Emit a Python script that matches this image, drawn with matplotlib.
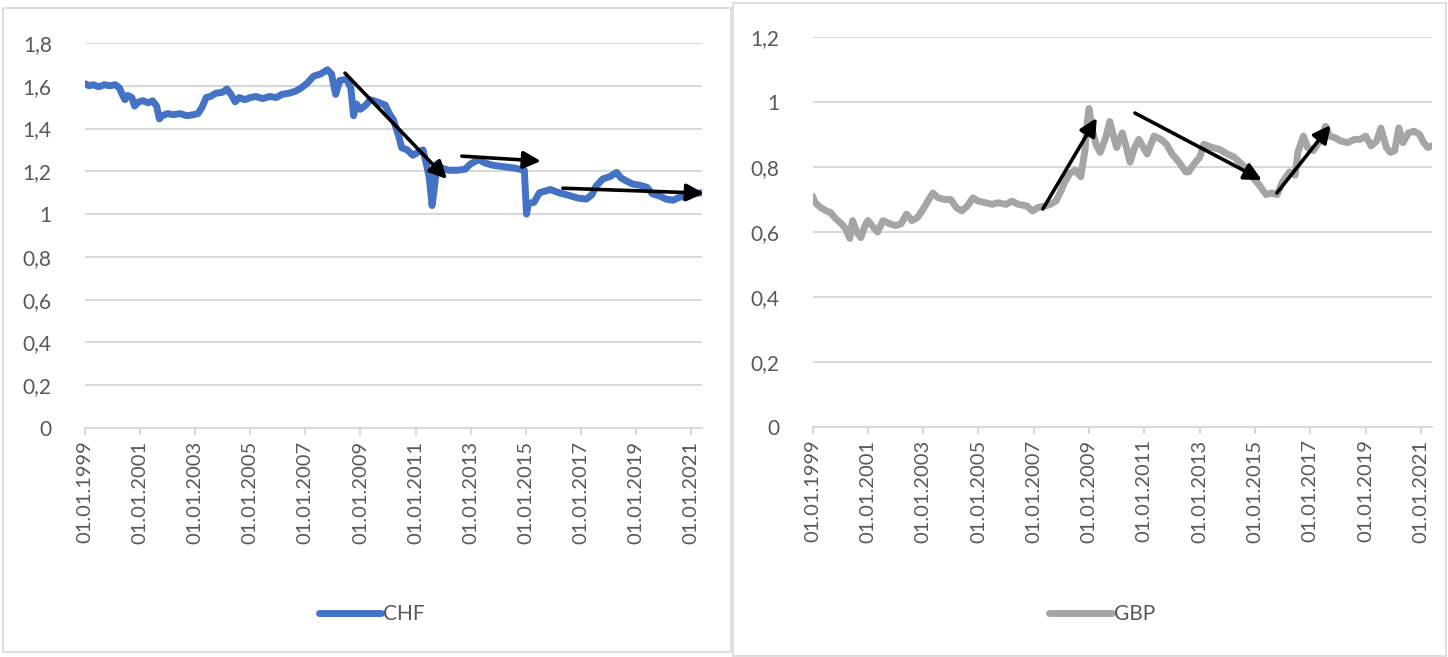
import matplotlib
matplotlib.use("Agg")
import matplotlib.pyplot as plt
from matplotlib.patches import Rectangle

plt.rcParams["font.family"] = ["Lato", "DejaVu Sans"]

# EUR/CHF (decimal years)
chf_years = [1999.00, 1999.15, 1999.30, 1999.50, 1999.70, 1999.90, 2000.10, 2000.25, 2000.35, 2000.45,
             2000.55, 2000.70, 2000.80, 2000.95, 2001.10, 2001.30, 2001.45, 2001.60, 2001.70, 2001.80,
             2002.00, 2002.20, 2002.45, 2002.70, 2002.95, 2003.10, 2003.25, 2003.40, 2003.55, 2003.75,
             2004.00, 2004.15, 2004.30, 2004.45, 2004.60, 2004.80, 2005.00, 2005.20, 2005.45, 2005.70,
             2005.95, 2006.15, 2006.40, 2006.65, 2006.85, 2007.05, 2007.30, 2007.55, 2007.80, 2007.95,
             2008.10, 2008.25, 2008.50, 2008.65, 2008.75, 2008.85, 2009.00, 2009.20, 2009.35, 2009.60,
             2009.90, 2010.05, 2010.20, 2010.40, 2010.50, 2010.70, 2010.90, 2011.10, 2011.27, 2011.40,
             2011.50, 2011.60, 2011.68, 2011.78, 2011.95, 2012.20, 2012.50, 2012.80, 2013.00, 2013.30,
             2013.50, 2013.75, 2014.00, 2014.30, 2014.60, 2014.95, 2015.03, 2015.10, 2015.30, 2015.50,
             2015.90, 2016.20, 2016.50, 2016.90, 2017.20, 2017.40, 2017.55, 2017.80, 2018.05, 2018.30,
             2018.45, 2018.65, 2018.90, 2019.15, 2019.40, 2019.60, 2019.85, 2020.10, 2020.35, 2020.60,
             2020.85, 2021.10, 2021.40]
chf_values = [1.61, 1.60, 1.605, 1.595, 1.605, 1.60, 1.605, 1.59, 1.56, 1.535,
              1.555, 1.545, 1.505, 1.525, 1.53, 1.52, 1.53, 1.505, 1.445, 1.46,
              1.47, 1.465, 1.47, 1.46, 1.465, 1.47, 1.50, 1.545, 1.55, 1.565,
              1.57, 1.585, 1.56, 1.525, 1.545, 1.535, 1.545, 1.55, 1.54, 1.55,
              1.545, 1.56, 1.565, 1.575, 1.59, 1.61, 1.645, 1.655, 1.675, 1.655,
              1.56, 1.625, 1.63, 1.59, 1.46, 1.515, 1.49, 1.51, 1.535, 1.525,
              1.51, 1.47, 1.44, 1.36, 1.31, 1.30, 1.275, 1.29, 1.30, 1.23,
              1.17, 1.04, 1.12, 1.235, 1.215, 1.205, 1.205, 1.21, 1.235, 1.255,
              1.24, 1.23, 1.225, 1.22, 1.215, 1.205, 1.00, 1.05, 1.055, 1.10,
              1.115, 1.10, 1.09, 1.075, 1.07, 1.09, 1.13, 1.165, 1.175, 1.195,
              1.17, 1.155, 1.14, 1.135, 1.125, 1.095, 1.085, 1.07, 1.065, 1.08,
              1.08, 1.095, 1.10]

# EUR/GBP
gbp_years = [1999.00, 1999.10, 1999.30, 1999.50, 1999.65, 1999.85, 2000.05, 2000.20, 2000.35, 2000.45,
             2000.60, 2000.75, 2000.90, 2001.00, 2001.20, 2001.35, 2001.55, 2001.80, 2002.00, 2002.20,
             2002.40, 2002.60, 2002.80, 2003.00, 2003.17, 2003.35, 2003.55, 2003.80, 2004.00, 2004.20,
             2004.40, 2004.60, 2004.80, 2005.00, 2005.25, 2005.50, 2005.70, 2006.00, 2006.20, 2006.45,
             2006.75, 2006.95, 2007.15, 2007.40, 2007.60, 2007.80, 2007.95, 2008.10, 2008.30, 2008.50,
             2008.70, 2008.85, 2008.95, 2009.00, 2009.10, 2009.25, 2009.40, 2009.60, 2009.75, 2009.90,
             2010.00, 2010.20, 2010.35, 2010.48, 2010.65, 2010.80, 2011.00, 2011.10, 2011.35, 2011.60,
             2011.80, 2012.00, 2012.25, 2012.50, 2012.60, 2012.80, 2013.00, 2013.15, 2013.45, 2013.70,
             2014.00, 2014.25, 2014.50, 2014.75, 2014.95, 2015.15, 2015.40, 2015.60, 2015.80, 2016.00,
             2016.25, 2016.45, 2016.55, 2016.75, 2016.90, 2017.10, 2017.35, 2017.55, 2017.70, 2017.90,
             2018.10, 2018.35, 2018.60, 2018.80, 2019.00, 2019.20, 2019.40, 2019.55, 2019.75, 2019.90,
             2020.05, 2020.20, 2020.35, 2020.55, 2020.75, 2020.95, 2021.10, 2021.25, 2021.40]
gbp_values = [0.71, 0.69, 0.675, 0.665, 0.66, 0.64, 0.625, 0.61, 0.58, 0.635,
              0.60, 0.583, 0.62, 0.635, 0.615, 0.60, 0.635, 0.625, 0.62, 0.625,
              0.655, 0.635, 0.645, 0.67, 0.695, 0.72, 0.705, 0.70, 0.70, 0.675,
              0.665, 0.68, 0.705, 0.695, 0.69, 0.685, 0.69, 0.685, 0.695, 0.685,
              0.68, 0.665, 0.675, 0.68, 0.685, 0.695, 0.72, 0.75, 0.78, 0.79,
              0.77, 0.85, 0.95, 0.98, 0.92, 0.87, 0.845, 0.89, 0.94, 0.89,
              0.86, 0.905, 0.86, 0.815, 0.86, 0.885, 0.855, 0.84, 0.895, 0.885,
              0.87, 0.84, 0.815, 0.785, 0.785, 0.81, 0.83, 0.87, 0.86, 0.855,
              0.84, 0.83, 0.81, 0.79, 0.765, 0.745, 0.715, 0.72, 0.715, 0.755,
              0.785, 0.775, 0.845, 0.895, 0.86, 0.85, 0.88, 0.925, 0.895, 0.89,
              0.88, 0.875, 0.885, 0.885, 0.895, 0.865, 0.88, 0.92, 0.86, 0.845,
              0.85, 0.92, 0.875, 0.905, 0.91, 0.90, 0.875, 0.86, 0.865]

tick_years = [1999, 2001, 2003, 2005, 2007, 2009, 2011, 2013, 2015, 2017, 2019, 2021]
tick_labels = ["01.01.%d" % y for y in tick_years]

chf_yticks = [0, 0.2, 0.4, 0.6, 0.8, 1.0, 1.2, 1.4, 1.6, 1.8]
chf_ylabels = ["0", "0,2", "0,4", "0,6", "0,8", "1", "1,2", "1,4", "1,6", "1,8"]
gbp_yticks = [0, 0.2, 0.4, 0.6, 0.8, 1.0, 1.2]
gbp_ylabels = ["0", "0,2", "0,4", "0,6", "0,8", "1", "1,2"]

# trend arrows drawn on top (start -> end)
chf_arrows = [((2008.44, 1.659), (2012.14, 1.164)),
              ((2012.68, 1.271), (2015.55, 1.248)),
              ((2016.35, 1.121), (2021.47, 1.098))]
gbp_arrows = [((2007.33, 0.671), (2009.28, 0.951)),
              ((2010.66, 0.966), (2015.25, 0.760)),
              ((2015.79, 0.720), (2017.74, 0.929))]

W, H = 1448, 657
fig = plt.figure(figsize=(W / 100, H / 100), dpi=100)

grid_c = "#D9D9D9"
text_c = "#595959"

# panel frames
fig.add_artist(Rectangle((3 / W, 1 - 652 / H), 728 / W, 644 / H, transform=fig.transFigure,
                         fill=False, edgecolor=grid_c, lw=1.2))
fig.add_artist(Rectangle((733 / W, 1 - 656 / H), 713 / W, 653 / H, transform=fig.transFigure,
                         fill=False, edgecolor=grid_c, lw=1.2))

ax1 = fig.add_axes([85 / W, 1 - 428 / H, 617 / W, 385 / H])
ax2 = fig.add_axes([812.5 / W, 1 - 427 / H, 619.5 / W, 390 / H])


def style(ax, yticks, ylabels, ymax):
    ax.set_xlim(1999, 2021.4)
    ax.set_ylim(0, ymax)
    ax.set_yticks(yticks)
    ax.set_yticklabels(ylabels)
    ax.set_xticks(tick_years)
    ax.set_xticklabels(tick_labels, rotation=90)
    for s in ["left", "right", "top"]:
        ax.spines[s].set_visible(False)
    ax.spines["bottom"].set_color(grid_c)
    ax.spines["bottom"].set_linewidth(1.5)
    ax.grid(axis="y", color=grid_c, lw=1.5)
    ax.set_axisbelow(True)
    ax.tick_params(axis="y", length=0, pad=24, labelsize=15, labelcolor=text_c)
    ax.tick_params(axis="x", length=5, width=1.5, color=grid_c, pad=4, labelsize=14.5, labelcolor=text_c)


ax1.plot(chf_years, chf_values, color="#4472C4", lw=5, solid_joinstyle="round",
         solid_capstyle="round", label="CHF")
ax2.plot(gbp_years, gbp_values, color="#A5A5A5", lw=5, solid_joinstyle="round",
         solid_capstyle="round", label="GBP")

style(ax1, chf_yticks, chf_ylabels, 1.8)
style(ax2, gbp_yticks, gbp_ylabels, 1.2)

for ax, arrows in [(ax1, chf_arrows), (ax2, gbp_arrows)]:
    for start, end in arrows:
        ax.annotate("", xy=end, xytext=start, annotation_clip=False,
                    arrowprops=dict(arrowstyle="-|>", color="black", lw=2.6,
                                    mutation_scale=26, shrinkA=0, shrinkB=0))

for ax, cx in [(ax1, 372), (ax2, 1102)]:
    leg = ax.legend(loc="center", bbox_to_anchor=(cx / W, 1 - 614 / H),
                    bbox_transform=fig.transFigure, frameon=False, fontsize=15,
                    handlelength=3.0, handletextpad=0.1)
    for t in leg.get_texts():
        t.set_color(text_c)

fig.savefig("out.png", dpi=100)
